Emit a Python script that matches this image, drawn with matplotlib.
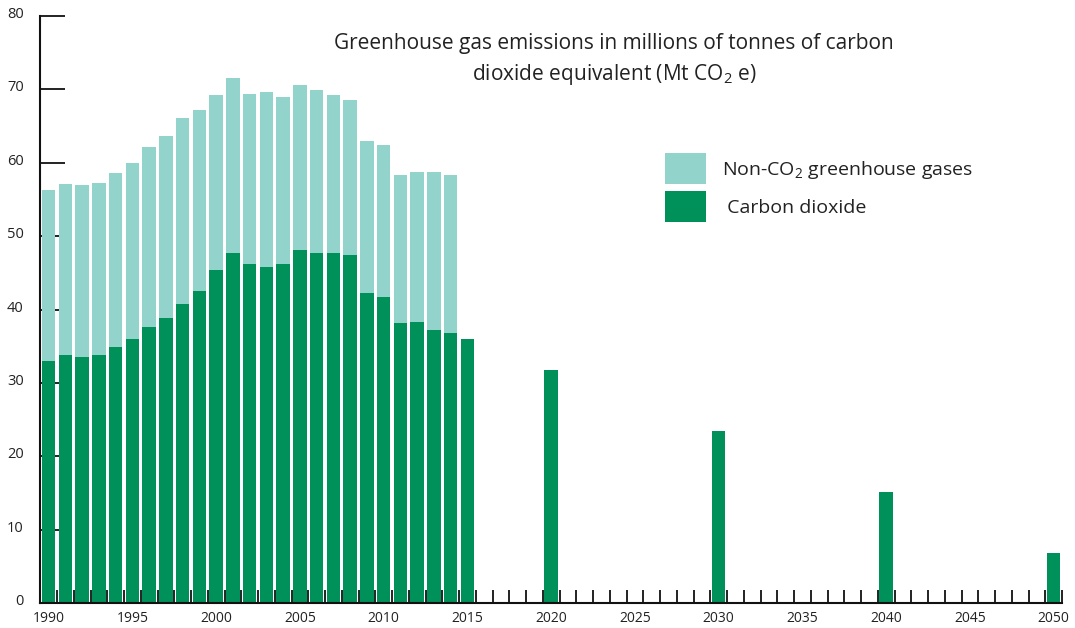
import matplotlib
matplotlib.use("Agg")
import matplotlib.pyplot as plt
import matplotlib.transforms as mtransforms
from matplotlib.patches import Patch

plt.rcParams['font.family'] = ['Open Sans', 'DejaVu Sans']
plt.rcParams['mathtext.fontset'] = 'custom'
plt.rcParams['mathtext.rm'] = 'Open Sans'
plt.rcParams['mathtext.default'] = 'regular'

# ---- data ----
hist_years = list(range(1990, 2016))
co2_hist = [33.0, 33.8, 33.5, 33.8, 34.9, 36.0, 37.6, 38.8, 40.7, 42.5,
            45.4, 47.7, 46.2, 45.8, 46.2, 48.1, 47.7, 47.7, 47.4, 42.2,
            41.7, 38.1, 38.3, 37.2, 36.8, 36.0]
total_hist = [56.3, 57.1, 56.9, 57.2, 58.6, 59.9, 62.1, 63.6, 66.1, 67.2,
              69.3, 71.5, 69.4, 69.6, 69.0, 70.6, 69.9, 69.2, 68.5, 62.9,
              62.4, 58.3, 58.7, 58.7, 58.3, None]
proj_years = [2020, 2030, 2040, 2050]
co2_proj = [31.7, 23.4, 15.1, 6.8]

yticks = [0, 10, 20, 30, 40, 50, 60, 70, 80]
xlabel_years = list(range(1990, 2051, 5))

title = "Greenhouse gas emissions in millions of tonnes of carbon\ndioxide equivalent (Mt CO$_2$ e)"
label_non = "Non-CO$_2$ greenhouse gases"
label_co2 = " Carbon dioxide"

DARK = "#00905A"
LIGHT = "#92D3CB"

# ---- figure ----
fig = plt.figure(figsize=(10.75, 6.28), dpi=100)
ax = fig.add_axes([40.3 / 1075, 25 / 628, (1062 - 40.3) / 1075, (603 - 16) / 628])

width = 0.8
non_years = [y for y, t in zip(hist_years, total_hist) if t is not None]
non_vals = [t - c for t, c in zip(total_hist, co2_hist) if t is not None]
non_bottom = [c for t, c in zip(total_hist, co2_hist) if t is not None]

ax.bar(hist_years, co2_hist, width=width, color=DARK, zorder=2)
ax.bar(non_years, non_vals, bottom=non_bottom, width=width, color=LIGHT, zorder=2)
ax.bar(proj_years, co2_proj, width=width, color=DARK, zorder=2)

ax.set_xlim(1989.5, 2050.5)
ax.set_ylim(0, 80)

for s in ['top', 'right']:
    ax.spines[s].set_visible(False)
for s in ['left', 'bottom']:
    ax.spines[s].set_linewidth(1.5)
    ax.spines[s].set_color('#111111')
    ax.spines[s].set_zorder(3)

ax.set_yticks(yticks)
ax.set_yticklabels([str(v) for v in yticks])
ax.tick_params(axis='y', direction='in', length=18, width=1.3, color='#111111',
               labelsize=10.5, pad=12, labelcolor='#222222')

ax.set_xticks(xlabel_years)
ax.set_xticklabels([str(v) for v in xlabel_years])
ax.set_xticks([y + 0.5 for y in range(1990, 2051)], minor=True)
ax.tick_params(axis='x', which='major', length=0, labelsize=10, pad=6, labelcolor='#222222')
ax.tick_params(axis='x', which='minor', direction='in', length=9.5, width=1.3, color='#111111')

# shift y labels slightly upward
off = mtransforms.ScaledTranslation(0, 2.5 / 72, fig.dpi_scale_trans)
for lbl in ax.get_yticklabels():
    lbl.set_transform(lbl.get_transform() + off)

fig.text(614 / 1075, 1 - 60 / 628, title, ha='center', va='center',
         fontsize=15, linespacing=1.45, color='#222222')

handles = [Patch(facecolor=LIGHT, edgecolor='none'), Patch(facecolor=DARK, edgecolor='none')]
fs = 14
fpx = fs * 100 / 72
hh = (31 / fpx - 0.245) / 0.65
fig.legend(handles, [label_non, label_co2], loc='upper left',
           bbox_to_anchor=(665 / 1075, 1 - 153 / 628), frameon=False,
           fontsize=fs, handlelength=41 / fpx, handleheight=hh,
           handletextpad=16 / fpx, labelspacing=7 / fpx, borderpad=0,
           borderaxespad=0, labelcolor='#222222')

fig.savefig("out.png", dpi=100)
